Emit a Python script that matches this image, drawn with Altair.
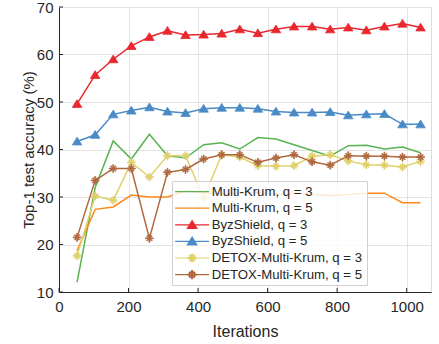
import math
import altair as alt
import pandas as pd

iterations = [52, 104, 156, 208, 260, 312, 364, 416, 468, 520,
              572, 624, 676, 728, 780, 832, 884, 936, 988, 1040]

series_names = ["Multi-Krum, q = 3", "Multi-Krum, q = 5", "ByzShield, q = 3",
                "ByzShield, q = 5", "DETOX-Multi-Krum, q = 3", "DETOX-Multi-Krum, q = 5"]

mk3 = [12.1, 32.0, 41.8, 38.0, 43.2, 38.7, 38.2, 41.0, 41.4, 40.1,
       42.5, 42.2, 41.0, 39.8, 38.6, 40.8, 40.9, 40.1, 40.5, 39.3]
mk5 = [18.7, 27.4, 27.9, 30.4, 30.0, 30.0, 31.3, 30.9, 30.6, 30.8,
       31.0, 30.6, 30.8, 30.5, 30.3, 30.5, 30.8, 30.8, 28.8, 28.8]
byz3 = [49.6, 55.7, 59.0, 61.8, 63.7, 65.0, 64.1, 64.2, 64.4, 65.3,
        64.5, 65.3, 65.9, 65.9, 65.3, 65.7, 65.1, 65.9, 66.5, 65.7]
byz5 = [41.7, 43.1, 47.4, 48.2, 48.9, 48.0, 47.7, 48.6, 48.8, 48.8,
        48.6, 48.0, 47.8, 47.8, 47.9, 47.2, 47.4, 47.5, 45.3, 45.3]
detox3 = [17.6, 30.2, 29.3, 37.3, 34.2, 38.7, 38.7, 29.8, 38.9, 38.4,
          36.6, 36.5, 36.6, 38.6, 38.9, 37.6, 36.8, 36.7, 36.3, 37.5]
detox5 = [21.5, 33.5, 36.0, 36.0, 21.3, 35.2, 35.8, 38.0, 38.9, 38.9,
          37.3, 38.2, 38.9, 37.4, 36.7, 38.7, 38.6, 38.6, 38.4, 38.4]

x_ticks = [0, 200, 400, 600, 800, 1000]
y_ticks = [10, 20, 30, 40, 50, 60, 70]

colors = ["#58B452", "#FF8A1C", "#E8282E", "#4A8AC6", "#E0D16C", "#B0683F"]

# ---- marker shapes (unit paths, scaled by Vega with r = sqrt(size)/2) ----
def bar(angle_deg, R, w):
    a = math.radians(angle_deg)
    d = (math.cos(a), math.sin(a))
    n = (-math.sin(a), math.cos(a))
    pts = [(R * d[0] + w * n[0], R * d[1] + w * n[1]),
           (R * d[0] - w * n[0], R * d[1] - w * n[1]),
           (-R * d[0] - w * n[0], -R * d[1] - w * n[1]),
           (-R * d[0] + w * n[0], -R * d[1] + w * n[1])]
    return "M" + "L".join(f"{x:.3f},{y:.3f}" for x, y in pts) + "Z"

asterisk = bar(90, 0.8, 0.09) + bar(0, 0.8, 0.09) + bar(45, 0.7, 0.09) + bar(135, 0.7, 0.09)
triangle = "M0,-0.85L0.95,0.7L-0.95,0.7Z"
legline = "M-3.4,0L3.4,0"
nothing = "M0,0L0,0"

marker_paths = [nothing, nothing, triangle, triangle, asterisk, asterisk]
legend_paths = [legline, legline, legline + triangle, legline + triangle,
                legline + asterisk, legline + asterisk]

rows = []
for name, vals in zip(series_names, [mk3, mk5, byz3, byz5, detox3, detox5]):
    for it, v in zip(iterations, vals):
        rows.append({"it": it, "acc": v, "series": name, "lg": name})
df = pd.DataFrame(rows)

FONT = "Liberation Sans"
TXT = "#262626"
W, H = 372, 285

xscale = alt.Scale(domain=[0, 1070], nice=False, zero=False)
yscale = alt.Scale(domain=[10, 70], nice=False, zero=False)

xenc = alt.X("it:Q", scale=xscale, axis=alt.Axis(
    values=x_ticks, format="d", grid=True, ticks=False, labelPadding=7, labelFontSize=15,
    labelFont=FONT, labelColor=TXT, title="Iterations", titleFont=FONT,
    titleFontSize=16, titleFontWeight="normal", titleColor=TXT, titlePadding=9,
    domainColor=TXT, gridColor="#E3E3E3", labelFlush=False))
yenc = alt.Y("acc:Q", scale=yscale, axis=alt.Axis(
    values=y_ticks, format="d", grid=True, ticks=False, labelPadding=6, labelFontSize=15,
    labelFont=FONT, labelColor=TXT, title="Top-1 test accuracy (%)", titleFont=FONT,
    titleFontSize=15, titleFontWeight="normal", titleColor=TXT, titlePadding=0,
    domainColor=TXT, gridColor="#E3E3E3", labelFlush=False))

color_scale = alt.Scale(domain=series_names, range=colors)

lines = alt.Chart(df).mark_line(strokeWidth=1.5).encode(
    x=xenc, y=yenc,
    color=alt.Color("series:N", scale=color_scale, legend=None),
)

marked = [n for n in series_names if not n.startswith("Multi")]
points = alt.Chart(df).transform_filter(
    alt.FieldOneOfPredicate(field="series", oneOf=marked)
).mark_point(filled=True, opacity=1, size=100, strokeWidth=0.8).encode(
    x="it:Q", y="acc:Q",
    color=alt.Color("series:N", scale=color_scale, legend=None),
    stroke=alt.Stroke("series:N", scale=color_scale, legend=None),
    shape=alt.Shape("series:N", scale=alt.Scale(domain=series_names, range=marker_paths), legend=None),
)

leg = alt.Legend(
    title=None, orient="none", legendX=113, legendY=174, padding=4,
    fillColor="rgba(255,255,255,0.8)", strokeColor="#D0D0D0", cornerRadius=0,
    labelFont=FONT, labelFontSize=13.2, labelColor=TXT, labelLimit=400,
    symbolSize=100, symbolStrokeWidth=1.2, symbolOffset=9.5, labelOffset=13,
    rowPadding=2.6, symbolOpacity=1,
)
legend_layer = alt.Chart(df).transform_filter("false").mark_point(
    filled=True, opacity=1, size=100).encode(
    x="it:Q", y="acc:Q",
    fill=alt.Fill("lg:N", scale=alt.Scale(domain=series_names, range=colors), legend=leg),
    stroke=alt.Stroke("lg:N", scale=alt.Scale(domain=series_names, range=colors), legend=leg),
    shape=alt.Shape("lg:N", scale=alt.Scale(domain=series_names, range=legend_paths), legend=leg),
)

xt = alt.Chart(pd.DataFrame({"v": x_ticks})).mark_rule(color=TXT, strokeWidth=1).encode(
    x=alt.X("v:Q"), y=alt.value(H), y2=alt.value(H - 4))
yt = alt.Chart(pd.DataFrame({"v": y_ticks})).mark_rule(color=TXT, strokeWidth=1).encode(
    y=alt.Y("v:Q"), x=alt.value(0), x2=alt.value(4))

chart = alt.layer(xt, yt, lines, points, legend_layer).resolve_scale(
    color="independent", fill="independent", stroke="independent", shape="independent"
).properties(
    width=W, height=H,
    autosize=alt.AutoSizeParams(type="none"),
    padding={"left": 59, "top": 7, "right": 8, "bottom": 52},
).configure_view(stroke=None).configure(background="white")

chart.save("out.html", embed_options={"renderer": "svg", "actions": False})
